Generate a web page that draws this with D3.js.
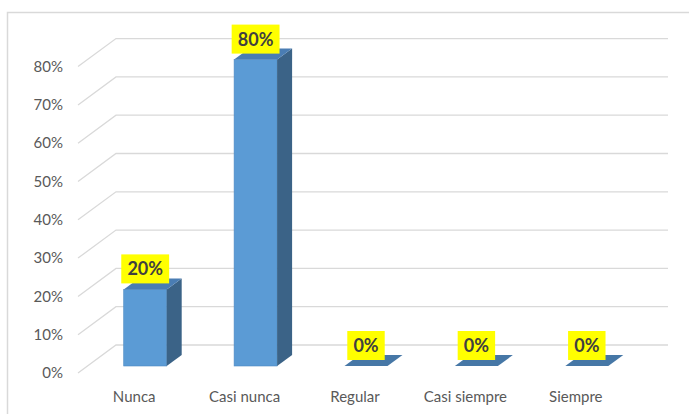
<!DOCTYPE html>
<html><head><meta charset="utf-8">
<script src="https://cdn.jsdelivr.net/npm/d3@7"></script>
<style>body{margin:0;background:#fff}svg{display:block}</style>
</head><body>
<script>
const categories = ["Nunca", "Casi nunca", "Regular", "Casi siempre", "Siempre"];
const values = [0.20, 0.80, 0, 0, 0];
const valueLabels = ["20%", "80%", "0%", "0%", "0%"];
const tickValues = [0, 0.1, 0.2, 0.3, 0.4, 0.5, 0.6, 0.7, 0.8];

const W = 689, H = 414;
const svg = d3.select("body").append("svg").attr("width", W).attr("height", H);
const font = "Lato, 'Open Sans', sans-serif";

// chart border
svg.append("path").attr("d", `M7.5,${H} V12.5 H${W}`).attr("fill", "none").attr("stroke", "#d9d9d9").attr("stroke-width", 1.5);

const DX = 38, DY = -28; // full depth
const x = d3.scaleBand().domain(categories).range([78, 630]);
const y = d3.scaleLinear().domain([0, 0.8]).range([373, 66.6]);

// gridlines (3D wall)
const g = svg.append("g");
tickValues.forEach(t => {
  const yf = y(t);
  g.append("path")
    .attr("d", `M78,${yf} L${78 + DX},${yf + DY} H${630 + DX}`)
    .attr("fill", "none").attr("stroke", "#d9d9d9").attr("stroke-width", 1.3);
});

// y axis labels
svg.append("g").selectAll("text").data(tickValues).join("text")
  .attr("x", 63).attr("y", d => y(d)).attr("dy", "0.35em")
  .attr("text-anchor", "end").attr("font-family", font).attr("font-size", 15)
  .attr("fill", "#595959").text(d => d3.format(".0%")(d));

// x axis labels
svg.append("g").selectAll("text").data(categories).join("text")
  .attr("x", d => x(d) + x.bandwidth() / 2 + 1).attr("y", 397).attr("dy", "0.35em")
  .attr("text-anchor", "middle").attr("font-family", font).attr("font-size", 15)
  .attr("fill", "#595959").text(d => d);

// bars
const offX = 12, offY = -7;   // bar front plane offset
const bdx = 15, bdy = -11;     // bar depth
const bw = 43;
const bars = svg.append("g");
categories.forEach((c, i) => {
  const cx = x(c) + x.bandwidth() / 2 + offX;
  const x0 = cx - bw / 2, x1 = cx + bw / 2;
  const yb = y(0) + offY, yt = y(values[i]) + offY;
  if (values[i] > 0) {
    bars.append("rect").attr("x", x0).attr("y", yt).attr("width", bw).attr("height", yb - yt)
      .attr("fill", "#5b9bd5").attr("stroke", "#4f8bc4").attr("stroke-width", 0.6);
    bars.append("path").attr("d", `M${x1},${yt} L${x1 + bdx},${yt + bdy} V${yb + bdy} L${x1},${yb} Z`)
      .attr("fill", "#3b6387");
    bars.append("path").attr("d", `M${x0},${yt} L${x0 + bdx},${yt + bdy} H${x1 + bdx} L${x1},${yt} Z`)
      .attr("fill", "#4a7db3");
  } else {
    bars.append("path").attr("d", `M${x0},${yb} L${x0 + bdx},${yb + bdy} H${x1 + bdx} L${x1},${yb} Z`)
      .attr("fill", "#4677a6");
  }
});

// data labels
const lab = svg.append("g");
categories.forEach((c, i) => {
  const cx = x(c) + x.bandwidth() / 2 + offX;
  const yt = y(values[i]) + offY;
  const t = lab.append("text").attr("x", cx).attr("y", yt - 6 - 14.5).attr("dy", "0.36em")
    .attr("text-anchor", "middle").attr("font-family", font).attr("font-weight", "bold")
    .attr("font-size", 18).attr("fill", "#404040").text(valueLabels[i]);
  const bb = t.node().getBBox();
  const w = bb.width + 12;
  lab.insert("rect", "text").attr("x", cx - w / 2).attr("y", yt - 6 - 29).attr("width", w).attr("height", 29)
    .attr("fill", "#ffff00");
});
</script>
</body></html>
